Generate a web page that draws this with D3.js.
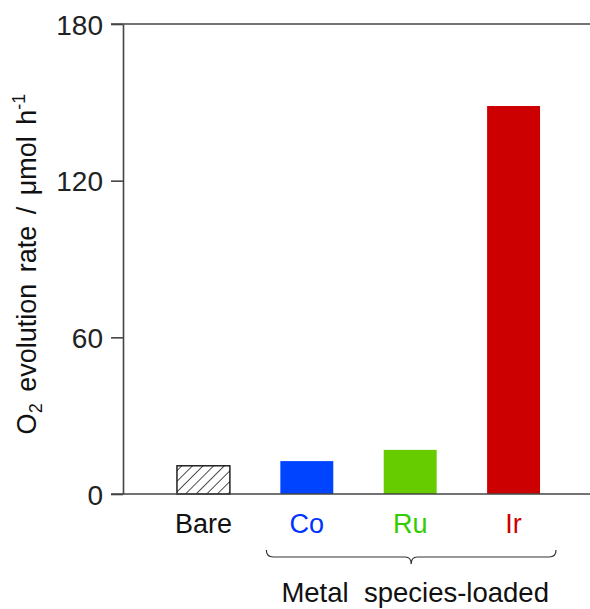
<!DOCTYPE html>
<html><head><meta charset="utf-8">
<script src="https://cdn.jsdelivr.net/npm/d3@7"></script>
<style>body{margin:0;background:#fff}svg{display:block}text{font-family:"Liberation Sans",Arial,sans-serif}</style>
</head><body>
<svg id="c" width="590" height="609"></svg>
<script>
const categories = ["Bare", "Co", "Ru", "Ir"];
const values = [10.8, 12.6, 16.9, 148.6];
const barColors = ["url(#hatch)", "#0044ff", "#66cc00", "#cc0000"];
const labelColors = ["#111111", "#0033ff", "#33cc00", "#cc0000"];
const yTicks = [0, 60, 120, 180];
const groupLabel = "Metal species-loaded";

const svg = d3.select("#c");
const defs = svg.append("defs");
const pat = defs.append("pattern").attr("id", "hatch").attr("patternUnits", "userSpaceOnUse")
  .attr("width", 7.5).attr("height", 7.5).attr("patternTransform", "rotate(45)");
pat.append("rect").attr("width", 7.5).attr("height", 7.5).attr("fill", "#fff");
pat.append("line").attr("x1", 0).attr("y1", 0).attr("x2", 0).attr("y2", 7.5)
  .attr("stroke", "#111").attr("stroke-width", 1.5);

const x0 = 123, yTop = 24, yBot = 494;
const x = d3.scaleBand().domain(categories).range([x0, 594]).paddingInner(0.488).paddingOuter(0.522);
const y = d3.scaleLinear().domain([0, 180]).range([yBot, yTop]);

// bars
svg.selectAll("rect.bar").data(categories).enter().append("rect")
  .attr("class", "bar")
  .attr("x", d => x(d)).attr("width", x.bandwidth())
  .attr("y", (d, i) => y(values[i])).attr("height", (d, i) => yBot - y(values[i]))
  .attr("fill", (d, i) => barColors[i])
  .attr("stroke", (d, i) => i === 0 ? "#111" : "none").attr("stroke-width", 1.4);

// frame lines
svg.append("line").attr("x1", 111).attr("x2", 590).attr("y1", yTop).attr("y2", yTop)
  .attr("stroke", "#444").attr("stroke-width", 1.6);
svg.append("line").attr("x1", 111).attr("x2", 590).attr("y1", yBot).attr("y2", yBot)
  .attr("stroke", "#444").attr("stroke-width", 1.6);

// y axis
const ya = svg.append("g").attr("transform", `translate(${x0},0)`)
  .call(d3.axisLeft(y).tickValues(yTicks).tickSize(12).tickSizeOuter(0).tickPadding(8));
ya.select(".domain").attr("stroke", "#444").attr("stroke-width", 1.6);
ya.selectAll(".tick line").attr("stroke", "#444").attr("stroke-width", 1.6);
ya.selectAll(".tick text").attr("font-size", 28).attr("fill", "#222")
  .attr("font-family", "Liberation Sans, Arial, sans-serif").attr("dy", "0.36em");

// category labels
svg.selectAll("text.cat").data(categories).enter().append("text")
  .attr("class", "cat")
  .attr("x", d => x(d) + x.bandwidth() / 2).attr("y", 533)
  .attr("text-anchor", "middle").attr("font-size", 27)
  .attr("fill", (d, i) => labelColors[i]).text(d => d);

// brace under Co..Ir
const bx1 = x("Co") - 14, bx2 = x("Ir") + x.bandwidth() + 16;
const bm = (bx1 + bx2) / 2, by = 557;
svg.append("path")
  .attr("d", `M${bx1},${by - 7} Q${bx1},${by} ${bx1 + 7},${by} L${bm - 6},${by} Q${bm},${by} ${bm},${by + 7} Q${bm},${by} ${bm + 6},${by} L${bx2 - 7},${by} Q${bx2},${by} ${bx2},${by - 7}`)
  .attr("fill", "none").attr("stroke", "#333").attr("stroke-width", 1.2);
svg.append("text").attr("x", bm + 4).attr("y", 602).attr("text-anchor", "middle")
  .attr("font-size", 27.5).attr("fill", "#111").attr("xml:space", "preserve")
  .text(groupLabel.replace(" ", "  "));

// y-axis title
const t = svg.append("text").attr("transform", `translate(36,264) rotate(-90)`)
  .attr("text-anchor", "middle").attr("font-size", 27).attr("fill", "#111")
  .attr("word-spacing", 4);
t.append("tspan").text("O");
t.append("tspan").attr("font-size", 18).attr("dy", 6).text("2");
t.append("tspan").attr("dy", -6).text(" evolution rate / μmol h");
t.append("tspan").attr("font-size", 18).attr("dy", -11).text("-1");
</script>
</body></html>
